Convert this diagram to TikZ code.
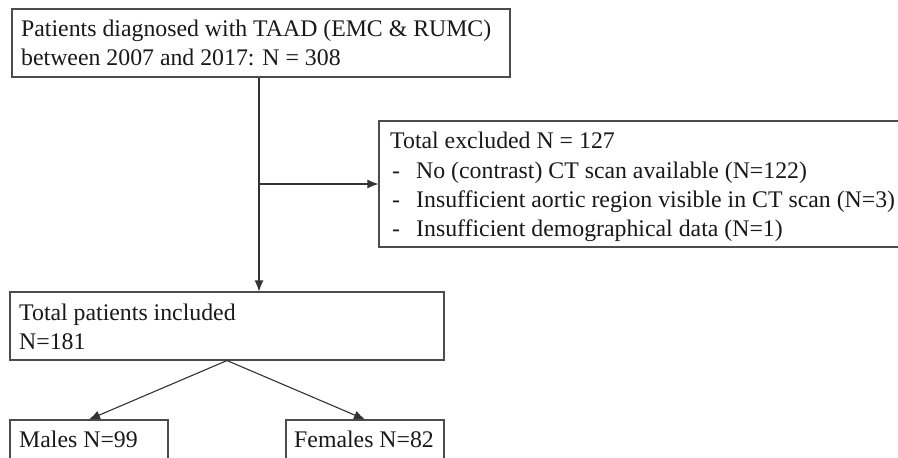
\documentclass[tikz,border=0pt]{standalone}
\usepackage{fontspec}
\setmainfont{Liberation Serif}
\usetikzlibrary{arrows.meta}
\begin{document}
\begin{tikzpicture}[x=1pt,y=-1pt,
  box/.style={draw=black!70, line width=1.1pt, minimum width=#1, inner sep=0pt, anchor=center},
  txt/.style={anchor=base west, inner sep=0pt, text=black!90, font=\fontsize{23.8}{28}\selectfont},
  conn/.style={draw=black!80, line width=1.1pt, -{Latex[length=11pt,width=9pt]}}]
\useasboundingbox (0,0) rectangle (898,458);
\clip (0,0) rectangle (898,458);
\fill[white] (0,0) rectangle (898,458);
% boxes
\node[box=498pt, minimum height=68pt] (top) at (261,43) {};
\node[box=541pt, minimum height=126pt] (excl) at (649.5,184) {};
\node[box=434pt, minimum height=68pt] (total) at (227,326) {};
\node[box=158pt, minimum height=60pt] (males) at (89,450) {};
\node[box=158pt, minimum height=60pt] (females) at (365,450) {};
% texts
\node[txt] (t1) at (21,36) {Patients diagnosed with TAAD (EMC \& RUMC)};
\node[txt] (t2) at (21,65) {between 2007 and 2017: N = 308};
\node[txt] (e0) at (390,148) {Total excluded N = 127};
\node[txt] (d1) at (392,178) {-};
\node[txt] (e1) at (416,178) {No (contrast) CT scan available (N=122)};
\node[txt] (d2) at (392,207) {-};
\node[txt] (e2) at (416,207) {Insufficient aortic region visible in CT scan (N=3)};
\node[txt] (d3) at (392,236) {-};
\node[txt] (e3) at (416,236) {Insufficient demographical data (N=1)};
\node[txt] (s1) at (19,320) {Total patients included};
\node[txt] (s2) at (19,349) {N=181};
\node[txt] (m1) at (19,447) {Males N=99};
\node[txt] (f1) at (294,447) {Females N=82};
% connectors
\coordinate (j) at (259,184);
\draw[conn] (top.south -| j) -- (total.north -| j);
\draw[conn] (j) -- (excl.west);
\draw[conn] (total.south) -- (males.north);
\draw[conn] (total.south) -- (females.north);
\end{tikzpicture}
\end{document}
